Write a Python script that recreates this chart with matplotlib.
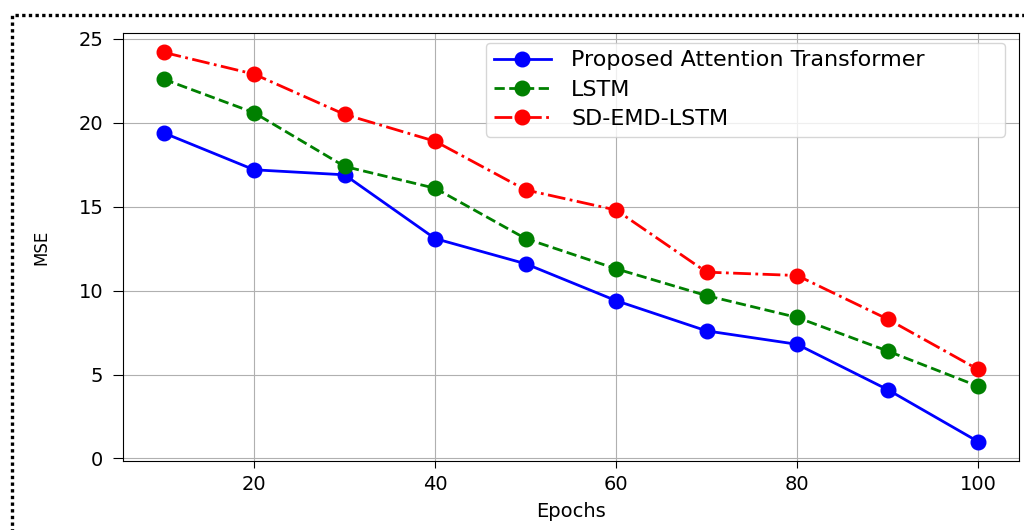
import matplotlib
matplotlib.use("Agg")
import matplotlib.pyplot as plt
from matplotlib.patches import Rectangle

epochs = [10, 20, 30, 40, 50, 60, 70, 80, 90, 100]
transformer = [19.4, 17.2, 16.9, 13.1, 11.6, 9.4, 7.6, 6.8, 4.1, 1.0]
lstm = [22.6, 20.6, 17.4, 16.1, 13.1, 11.3, 9.7, 8.4, 6.4, 4.3]
sd_emd_lstm = [24.2, 22.9, 20.5, 18.9, 16.0, 14.8, 11.1, 10.9, 8.3, 5.3]
labels = ["Proposed Attention Transformer", "LSTM", "SD-EMD-LSTM"]

fig = plt.figure(figsize=(10.24, 5.30), dpi=100)
ax = fig.add_axes([0.120, 0.130, 0.875, 0.808])

ax.plot(epochs, transformer, color="blue", linestyle="-", marker="o",
        markersize=10.5, linewidth=2.0, label=labels[0])
ax.plot(epochs, lstm, color="green", linestyle="--", marker="o",
        markersize=10.5, linewidth=2.0, label=labels[1])
ax.plot(epochs, sd_emd_lstm, color="red", linestyle="-.", marker="o",
        markersize=10.5, linewidth=2.0, label=labels[2])

ax.grid(True)
ax.set_yticks([0, 5, 10, 15, 20, 25])
ax.set_xticks([20, 40, 60, 80, 100])
ax.tick_params(axis="y", length=7, pad=7, labelsize=14)
ax.tick_params(axis="x", length=5, pad=5, labelsize=14)
ax.set_xlabel("Epochs", fontsize=14, labelpad=6)
ax.set_ylabel("MSE", fontsize=12, labelpad=20)
ax.legend(loc="upper right", fontsize=16, handlelength=2.6,
          handletextpad=0.9, labelspacing=0.42, borderpad=0.35,
          bbox_to_anchor=(0.405, 0.0, 0.58, 0.977), mode="expand",
          borderaxespad=0.0)

border = Rectangle((12 / 1024, -0.05), 1.05, 1 - 15 / 530 + 0.05,
                   transform=fig.transFigure, fill=False, edgecolor="black",
                   linewidth=2.4, linestyle=(0, (1, 1)), clip_on=False)
border.set_capstyle("butt")
fig.patches.append(border)

fig.savefig("out.png", dpi=100)
